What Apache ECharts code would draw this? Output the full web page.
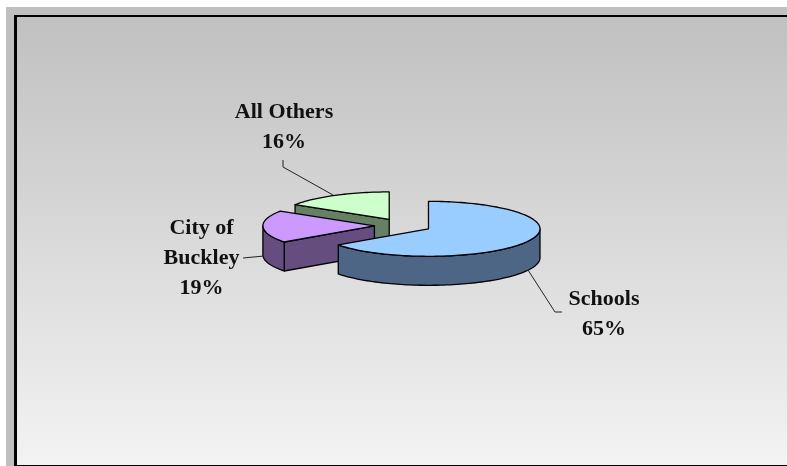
<!DOCTYPE html>
<html>
<head>
<meta charset="utf-8">
<style>
  html, body { margin: 0; padding: 0; background: #fff; }
  #chart { width: 787px; height: 466px; }
</style>
<script src="https://cdn.jsdelivr.net/npm/echarts@6/dist/echarts.min.js"></script>
</head>
<body>
<div id="chart"></div>
<script>
// Revenue shares, clockwise from twelve o'clock
const categories = ['Schools', 'City of\nBuckley', 'All Others'];
const shares = [65, 19, 16];
const topColors = ['#99ccff', '#cc99ff', '#ccffcc'];
const wallColors = ['#4d6685', '#664d80', '#668066'];

// Tilted pie geometry
const pie = { cx: 403, cy: 225.6, rx: 111.5, ry: 27.5, depth: 29, explode: 28.6 };

// Label centres and leader paths, one per category
const labelCentres = [[604, 314], [201.5, 258], [284, 127.5]];
const leaderPaths = [
  [[562, 312], [555, 312], [528, 270]],
  [[243, 258], [264, 256]],
  [[283, 160], [283, 167], [333, 195]]
];

const total = shares.reduce((a, b) => a + b, 0);
const starts = [];
shares.reduce((sum, v, i) => { starts[i] = sum; return sum + v; }, 0);
const toAngle = v => (v / total) * Math.PI * 2;

// Walk along the rim of one slice between two clockwise angles measured from north
function rim(c, a0, a1, drop) {
  const pts = [];
  const n = Math.max(2, Math.ceil(Math.abs(a1 - a0) / 0.03));
  for (let i = 0; i <= n; i++) {
    const a = a0 + (a1 - a0) * i / n;
    pts.push([c[0] + pie.rx * Math.sin(a), c[1] - pie.ry * Math.cos(a) + drop]);
  }
  return pts;
}

const edge = { stroke: '#000', lineWidth: 1.3, lineJoin: 'round' };

function renderSlice(params, api) {
  const i = api.value(0);
  const a0 = toAngle(starts[i]);
  const a1 = toAngle(starts[i] + api.value(1));
  const mid = (a0 + a1) / 2;
  const c = [
    pie.cx + pie.explode * Math.sin(mid),
    pie.cy - pie.explode * Math.cos(mid) * pie.ry / pie.rx
  ];
  const children = [];
  const face = (points, fill) => children.push({
    type: 'polygon', shape: { points }, style: Object.assign({ fill }, edge)
  });
  const cutWall = a => {
    const p = rim(c, a, a, 0)[0];
    face([c, p, [p[0], p[1] + pie.depth], [c[0], c[1] + pie.depth]], wallColors[i]);
  };

  // A straight cut is seen only when its outward normal points down the screen
  if (Math.sin(a0) < -1e-6) cutWall(a0);
  if (Math.sin(a1) > 1e-6) cutWall(a1);

  // Outer rim wall: only the lower half of the ellipse is visible
  const lo = Math.max(a0, Math.PI / 2);
  const hi = Math.min(a1, Math.PI * 1.5);
  if (hi > lo) {
    face(rim(c, lo, hi, 0).concat(rim(c, hi, lo, pie.depth)), wallColors[i]);
  }

  // Top face
  face([c].concat(rim(c, a0, a1, 0)), topColors[i]);

  return { type: 'group', children };
}

function renderLabel(params, api) {
  const i = api.value(0);
  const [x, y] = labelCentres[i];
  return {
    type: 'group',
    children: [
      {
        type: 'polyline',
        shape: { points: leaderPaths[i] },
        style: { stroke: '#222', lineWidth: 1, fill: null }
      },
      {
        type: 'text',
        x, y,
        style: {
          text: categories[i] + '\n' + api.value(1) + '%',
          font: 'bold 22px "Liberation Serif"',
          fill: '#111',
          align: 'center',
          verticalAlign: 'middle',
          lineHeight: 30
        }
      }
    ]
  };
}

// Later slices sit behind earlier ones, so paint from the back forward
const rows = shares.map((v, i) => [i, v]);
const paintOrder = [rows[2], rows[1], rows[0]];

const chart = echarts.init(document.getElementById('chart'), null, { renderer: 'canvas' });
chart.setOption({
  animation: false,
  backgroundColor: '#ffffff',
  graphic: {
    elements: [
      { type: 'rect', z: 0, shape: { x: 6, y: 7, width: 781, height: 459 }, style: { fill: '#c0c0c0' } },
      {
        type: 'rect', z: 0,
        shape: { x: 17, y: 17, width: 770, height: 448 },
        style: {
          fill: new echarts.graphic.LinearGradient(0, 0, 0, 1, [
            { offset: 0, color: '#c0c0c0' },
            { offset: 1, color: '#f3f3f3' }
          ])
        }
      },
      { type: 'rect', z: 1, shape: { x: 14, y: 15, width: 773, height: 2 }, style: { fill: '#000' } },
      { type: 'rect', z: 1, shape: { x: 14, y: 15, width: 3, height: 451 }, style: { fill: '#000' } },
      { type: 'rect', z: 1, shape: { x: 14, y: 465, width: 773, height: 1 }, style: { fill: '#000' } }
    ]
  },
  series: [
    { type: 'custom', coordinateSystem: 'none', z: 5, data: paintOrder, renderItem: renderSlice, silent: true },
    { type: 'custom', coordinateSystem: 'none', z: 6, data: rows, renderItem: renderLabel, silent: true }
  ]
});
</script>
</body>
</html>
